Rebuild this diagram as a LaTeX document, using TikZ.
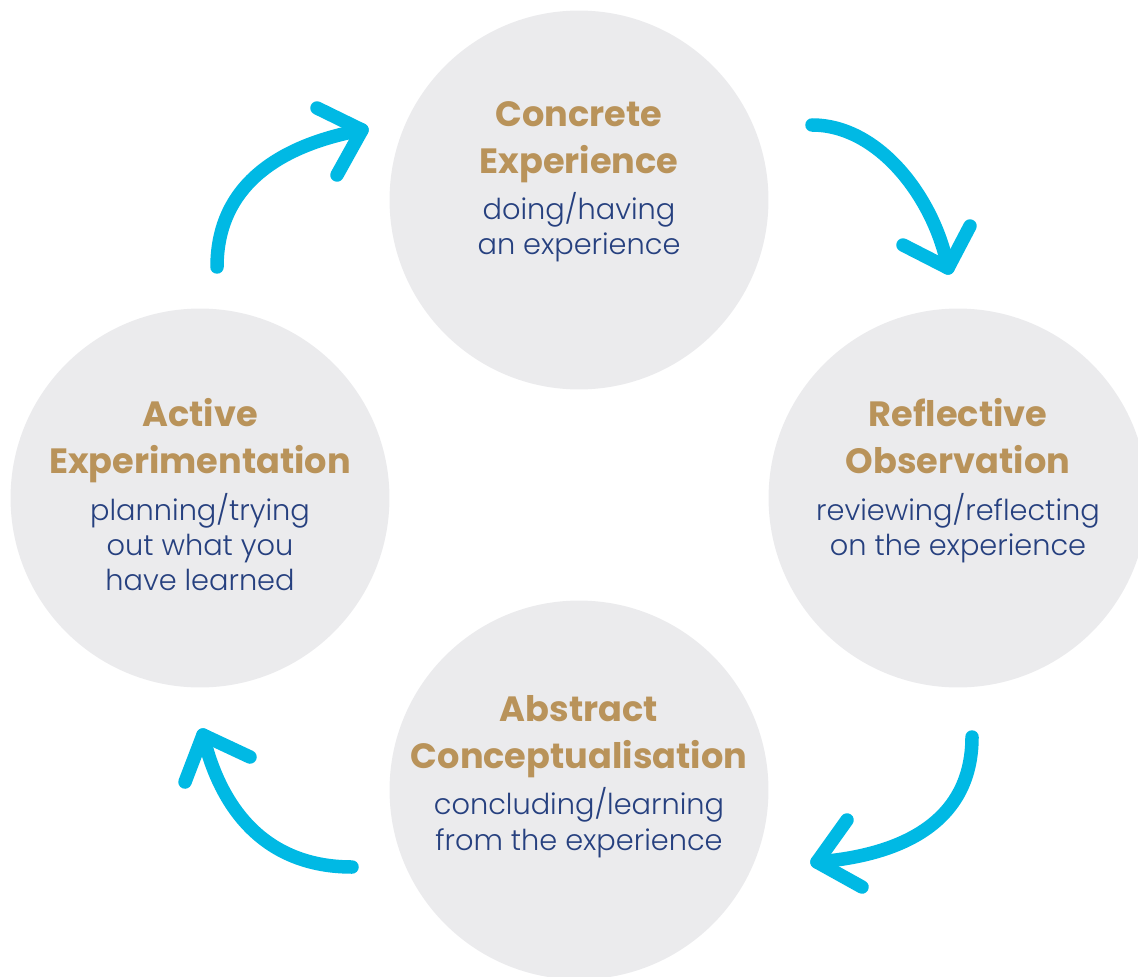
\documentclass[tikz,border=0pt]{standalone}
\usepackage{fontspec}
\setmainfont{Poppins}
\newfontfamily\lightfont{Poppins Light}
\usetikzlibrary{positioning}
\definecolor{stagegrey}{HTML}{EBEBED}
\definecolor{stagegold}{HTML}{B9935A}
\definecolor{stagenavy}{HTML}{26407F}
\definecolor{flowcyan}{HTML}{00B9E4}
\tikzset{
  stage/.style={circle, fill=stagegrey, minimum size=7.58cm, inner sep=0pt},
  stagetitle/.style={anchor=north, align=center, text=stagegold, inner sep=0pt,
    text depth=5pt, font=\fontsize{20}{27}\selectfont\bfseries},
  stagetext/.style={below=0.19cm of #1, align=center, text=stagenavy, inner sep=0pt,
    font=\lightfont\fontsize{16.4}{20}\selectfont},
  flow/.style={flowcyan, line width=0.27cm, line cap=round, line join=round}
}
\begin{document}
\begin{tikzpicture}[x=0.02cm, y=0.02cm]
        \useasboundingbox (0,0) rectangle (1138,-976);
        \clip (0,0) rectangle (1138,-976);
        % the four stages
        \node [stage] (ce) at (579,-200) {};
        \node [stage] (ro) at (958,-498) {};
        \node [stage] (ac) at (579,-790) {};
        \node [stage] (ae) at (200,-498) {};
        \node [stagetitle] (ceTitle) at (579,-101) {Concrete\\Experience};
        \node [stagetext=ceTitle] (ceText) {doing/having\\an experience};
        \node [stagetitle] (roTitle) at (958,-398) {Reflective\\Observation};
        \node [stagetext=roTitle] (roText) {reviewing/reflecting\\on the experience};
        \node [stagetitle] (acTitle) at (579,-695) {Abstract\\Conceptualisation};
        \node [stagetext=acTitle] (acText) {concluding/learning\\from the experience};
        \node [stagetitle] (aeTitle) at (200,-398) {Active\\Experimentation};
        \node [stagetext=aeTitle] (aeText) {planning/trying\\out what you\\have learned};
        % arrows round the cycle
        \coordinate (a1s) at (812,-125);
        \coordinate (a1e) at (948,-268);
        \coordinate (a1l) at (903,-245);
        \coordinate (a1r) at (970,-226);
        \draw [flow] (a1s) .. controls (880,-125) and (935,-200) .. (a1e);
        \draw [flow] (a1l) -- (a1e) -- (a1r);
        \coordinate (a2s) at (972,-737);
        \coordinate (a2e) at (817,-862);
        \coordinate (a2l) at (847,-820);
        \coordinate (a2r) at (862,-887);
        \draw [flow] (a2s) .. controls (972,-820) and (905,-855) .. (a2e);
        \draw [flow] (a2l) -- (a2e) -- (a2r);
        \coordinate (a3s) at (352,-867);
        \coordinate (a3e) at (203,-735);
        \coordinate (a3l) at (185,-782);
        \coordinate (a3r) at (250,-757);
        \draw [flow] (a3s) .. controls (270,-867) and (222,-815) .. (a3e);
        \draw [flow] (a3l) -- (a3e) -- (a3r);
        \coordinate (a4s) at (217,-267);
        \coordinate (a4e) at (362,-130);
        \coordinate (a4l) at (317,-108);
        \coordinate (a4r) at (337,-175);
        \draw [flow] (a4s) .. controls (217,-185) and (280,-145) .. (a4e);
        \draw [flow] (a4l) -- (a4e) -- (a4r);
\end{tikzpicture}
\end{document}
